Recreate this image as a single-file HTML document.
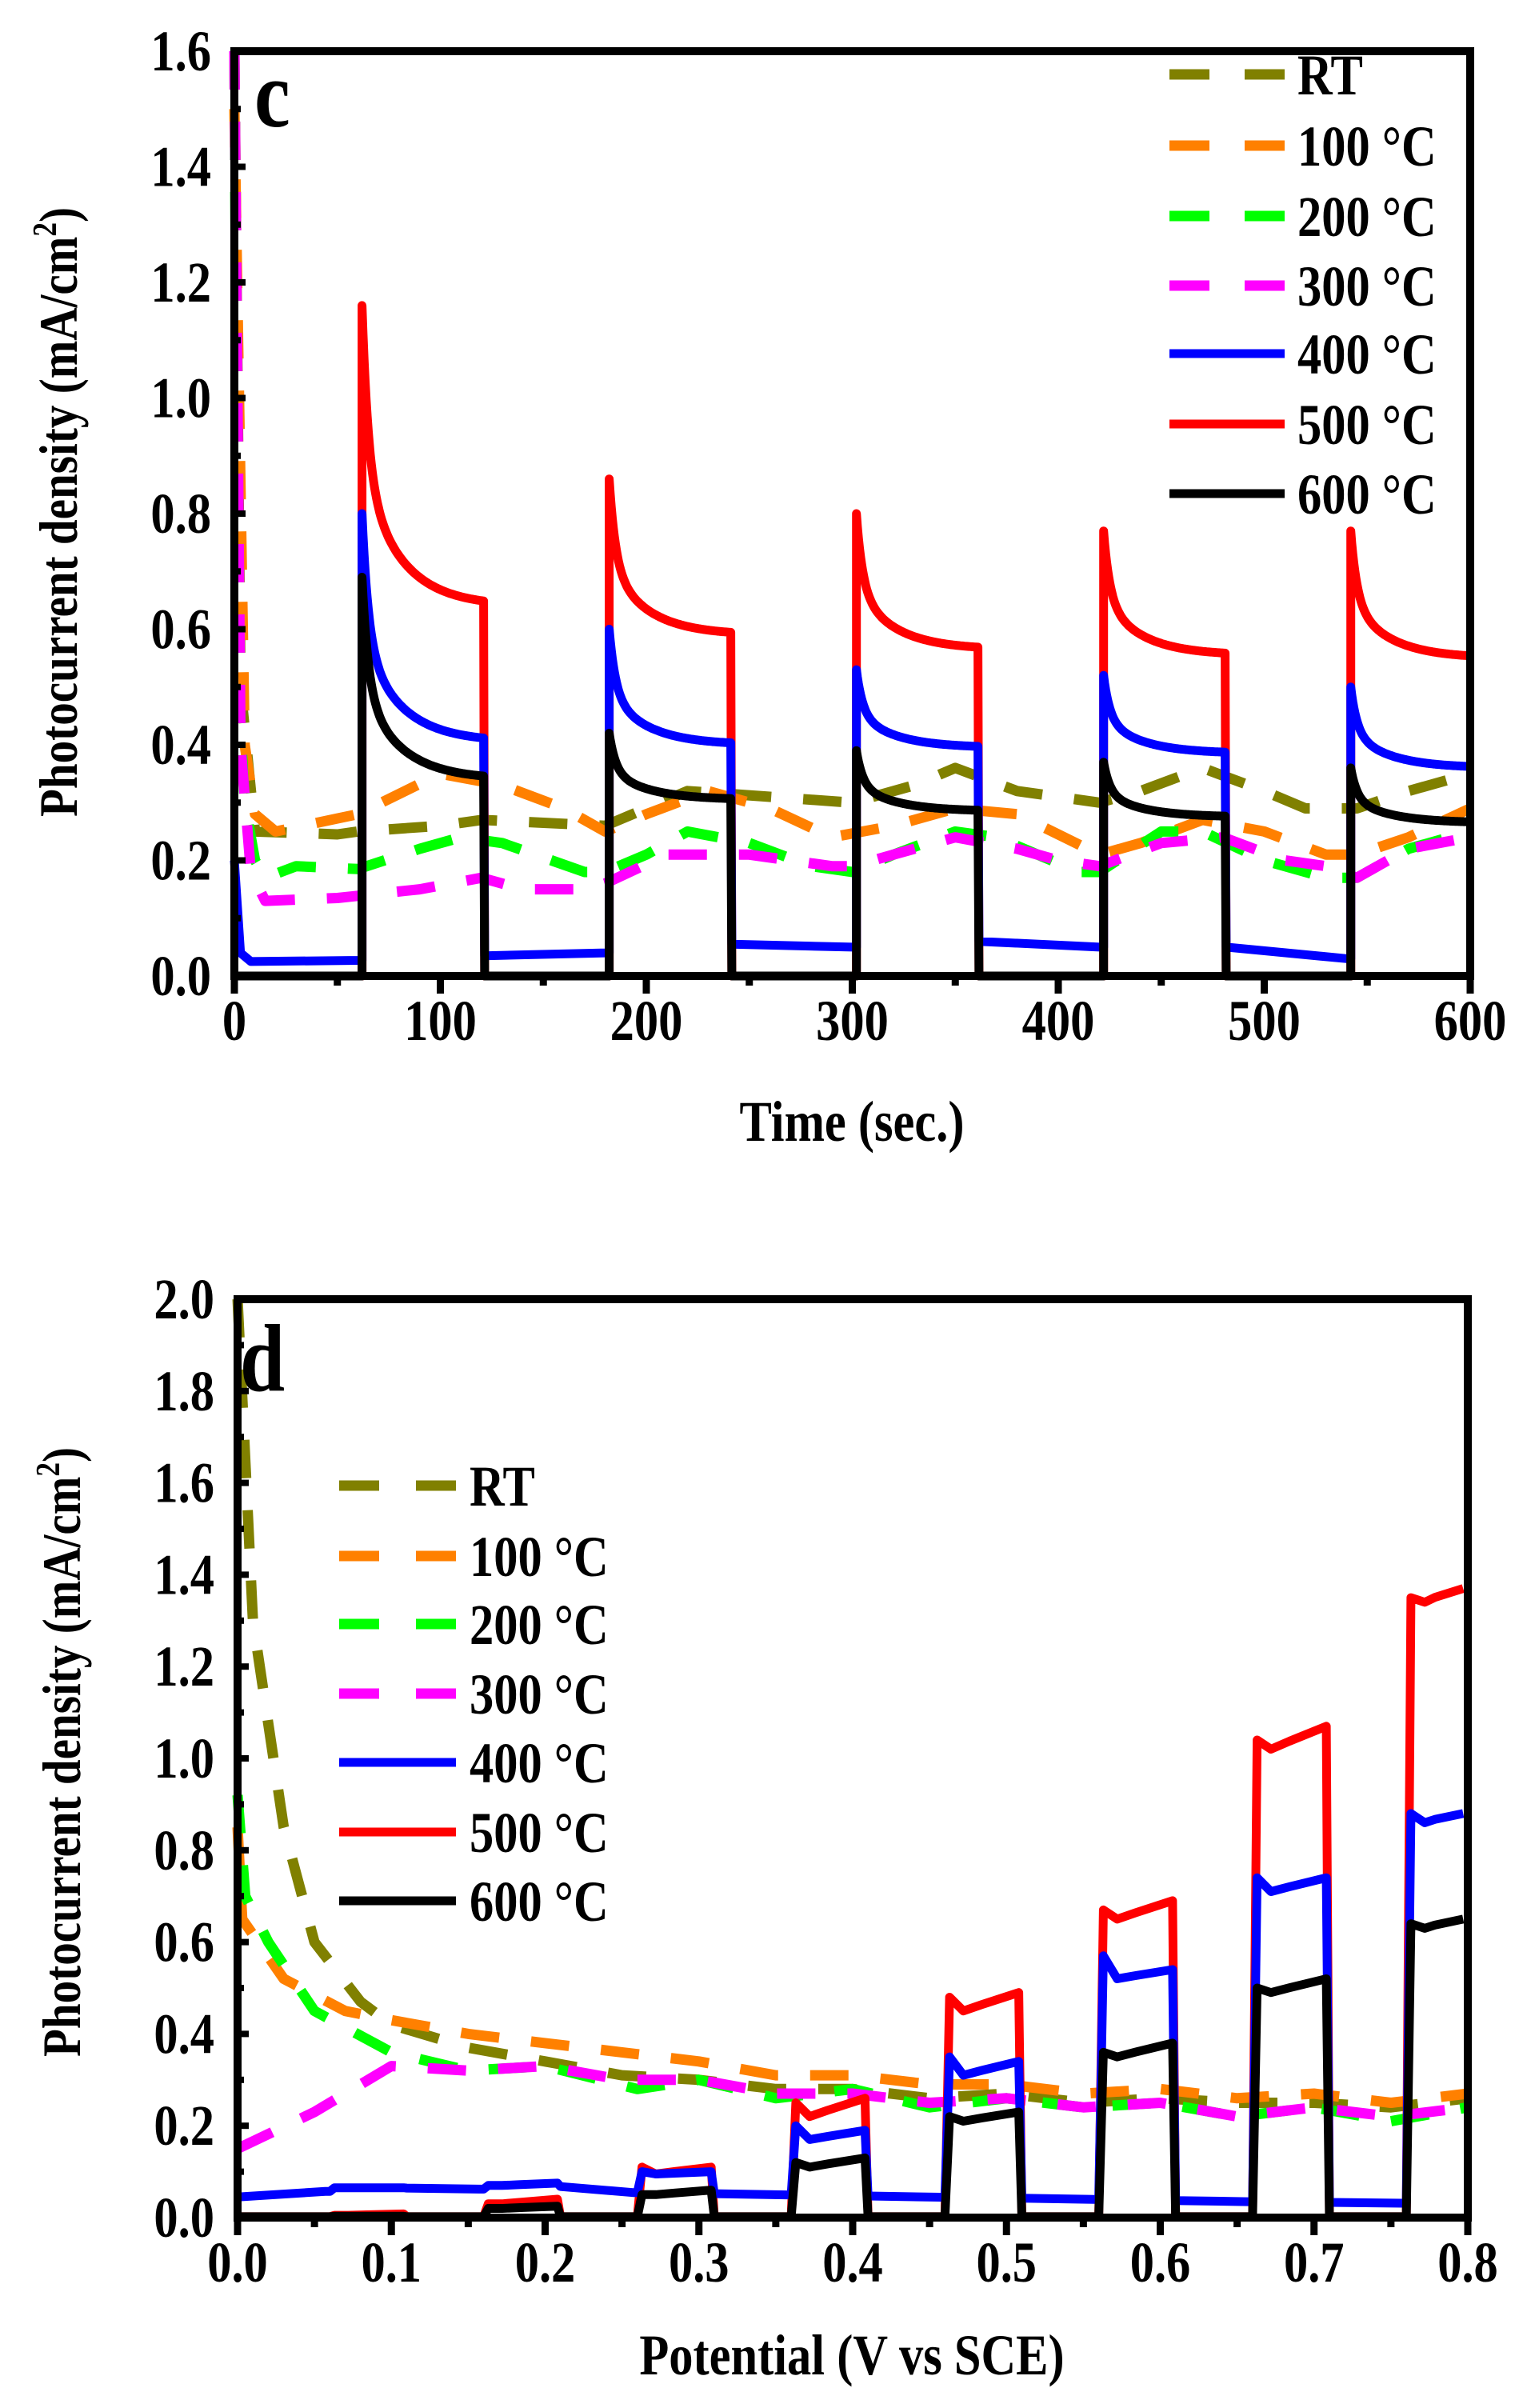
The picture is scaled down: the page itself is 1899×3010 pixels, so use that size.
<!DOCTYPE html>
<html><head><meta charset="utf-8"><style>
html,body{margin:0;padding:0;background:#fff;}
svg{display:block;}
text{font-family:"Liberation Serif",serif;font-weight:bold;fill:#000;}
</style></head><body>
<svg id="s" width="1899" height="3010" xmlns="http://www.w3.org/2000/svg"></svg>
<script>
const S=document.getElementById('s');let h='';
function P(pts,X,Y){return pts.map((p,i)=>(i?'L':'M')+X(p[0]).toFixed(1)+' '+Y(p[1]).toFixed(1)).join(' ');}
function line(pts,X,Y,c,dash,w){h+=`<path d="${P(pts,X,Y)}" fill="none" stroke="${c}" stroke-width="${w||11}" stroke-linejoin="round" ${dash?'stroke-dasharray="48 40"':''}/>`;}
function txt(x,y,t,fs,anc,rot){h+=`<text transform="translate(${x},${y})${rot?' rotate(-90)':''} scale(0.84,1)" font-size="${fs}" text-anchor="${anc||'start'}">${t}</text>`;}
const SUP='Photocurrent density (mA/cm<tspan font-size="42" dy="-26">2</tspan><tspan dy="26">)</tspan>';
// ===== Chart c =====
{const X=t=>293+t*1545/600,Y=v=>1220-v*1156/1.6;
const dc={'#808000':[[0,1.6],[3,0.5],[10,0.25],[50,0.245],[60,0.25],[100,0.26],[120,0.27],[150,0.265],[180,0.26],[220,0.32],[260,0.31],[300,0.30],[330,0.33],[350,0.36],[380,0.32],[420,0.30],[440,0.32],[470,0.36],[500,0.32],[520,0.29],[545,0.29],[570,0.32],[600,0.35]],
'#ff8000':[[0,1.5],[5,0.4],[10,0.28],[20,0.25],[60,0.28],[100,0.35],[130,0.33],[160,0.29],[180,0.25],[200,0.28],[230,0.32],[260,0.29],[290,0.24],[320,0.26],[350,0.29],[380,0.28],[420,0.21],[440,0.23],[470,0.27],[500,0.25],[530,0.21],[545,0.21],[570,0.24],[600,0.29]],
'#00ff00':[[0,1.6],[2,0.5],[5,0.3],[10,0.2],[15,0.17],[30,0.19],[60,0.185],[90,0.22],[110,0.24],[130,0.23],[170,0.18],[180,0.18],[200,0.21],[220,0.25],[250,0.23],[280,0.19],[300,0.18],[320,0.21],[350,0.25],[370,0.24],[410,0.18],[420,0.18],[450,0.25],[470,0.25],[500,0.2],[530,0.17],[545,0.17],[570,0.22],[600,0.25]],
'#ff00ff':[[0,1.6],[3,0.4],[8,0.18],[15,0.13],[50,0.135],[90,0.15],[120,0.17],[140,0.15],[170,0.15],[180,0.16],[210,0.21],[250,0.21],[290,0.19],[300,0.19],[320,0.21],[350,0.24],[380,0.22],[400,0.2],[420,0.19],[450,0.23],[480,0.24],[510,0.2],[530,0.19],[545,0.17],[570,0.22],[600,0.24]]};
for(const c in dc)line(dc[c],X,Y,c,true,13);
function pulses(peaks,bases,dark){const pts=[];const starts=[62,182,302,422,542];
 pts.push([0,dark[0][0]]);
 for(let i=0;i<5;i++){const t0=starts[i],t1=Math.min(t0+59,600);
  const dPrev=dark[i]; pts.push([t0-2,dPrev[1]]);pts.push([t0,dPrev[1]]);
  for(let t=t0;t<=t1;t+=0.5){const dt=t-t0;const v=bases[i]+(peaks[i]-bases[i])*(0.55*Math.exp(-dt/3)+0.45*Math.exp(-dt/18));pts.push([t,v]);}
  if(i<4){const dn=dark[i+1];pts.push([t1+0.5,dn[0]]);}
 }return pts;}
const z=[[0,0],[0,0],[0,0],[0,0],[0,0]];
line(pulses([1.16,0.86,0.80,0.77,0.77],[0.64,0.59,0.565,0.555,0.55],z),X,Y,'#ff0000',false,11);
const bd=[[0.025,0.027],[0.035,0.04],[0.055,0.05],[0.06,0.05],[0.05,0.03]];
let bp=pulses([0.8,0.6,0.53,0.52,0.5],[0.405,0.40,0.395,0.385,0.36],bd);
bp.splice(0,1,[0,0.2],[3,0.04],[8,0.025]);
line(bp,X,Y,'#0000ff',false,11);
line(pulses([0.69,0.42,0.39,0.37,0.36],[0.34,0.305,0.285,0.275,0.265],z),X,Y,'#000',false,11);
h+=`<rect x="293" y="64" width="1545" height="1156" fill="none" stroke="#000" stroke-width="10"/>`;
for(let t=0;t<=600;t+=50){const x=X(t),L=t%100?12:22;h+=`<line x1="${x}" y1="1220" x2="${x}" y2="${1220+L}" stroke="#000" stroke-width="9"/>`;if(t%100==0)txt(x,1300,t,72,'middle');}
for(let i=0;i<=16;i++){const v=i/10,y=Y(v),L=i%2?8:14;h+=`<line x1="293" y1="${y}" x2="${293+L}" y2="${y}" stroke="#000" stroke-width="8"/>`;if(i%2==0)txt(264,y+24,v.toFixed(1),72,'end');}
txt(1065,1426,'Time (sec.)',72,'middle');
txt(96,640,SUP,68,'middle',1);
txt(318,158,'c',120);
const L=[['RT','#808000',1],['100 °C','#ff8000',1],['200 °C','#00ff00',1],['300 °C','#ff00ff',1],['400 °C','#0000ff',0],['500 °C','#ff0000',0],['600 °C','#000',0]];
const ly=[93,182,270,357,442,530,617];
L.forEach((l,i)=>{if(l[2]){h+=`<line x1="1462" y1="${ly[i]}" x2="1512" y2="${ly[i]}" stroke="${l[1]}" stroke-width="13"/><line x1="1556" y1="${ly[i]}" x2="1606" y2="${ly[i]}" stroke="${l[1]}" stroke-width="13"/>`;}else h+=`<line x1="1462" y1="${ly[i]}" x2="1606" y2="${ly[i]}" stroke="${l[1]}" stroke-width="11"/>`;txt(1622,ly[i]+25,l[0],72);});
}
// ===== Chart d =====
{const X=p=>297+p*1538/0.8,Y=v=>2772-v*1148/2;
const dd={'#808000':[[0,2.0],[0.01,1.3],[0.03,0.85],[0.05,0.6],[0.08,0.47],[0.1,0.42],[0.15,0.37],[0.2,0.34],[0.25,0.31],[0.3,0.3],[0.35,0.28],[0.4,0.28],[0.45,0.26],[0.5,0.27],[0.55,0.25],[0.6,0.26],[0.65,0.25],[0.7,0.25],[0.75,0.24],[0.8,0.26]],
'#ff8000':[[0,0.85],[0.003,0.65],[0.03,0.52],[0.07,0.45],[0.1,0.43],[0.15,0.4],[0.2,0.38],[0.25,0.36],[0.3,0.34],[0.35,0.31],[0.4,0.31],[0.45,0.29],[0.5,0.29],[0.55,0.27],[0.6,0.28],[0.65,0.26],[0.7,0.27],[0.75,0.25],[0.8,0.27]],
'#00ff00':[[0,0.92],[0.005,0.7],[0.02,0.6],[0.05,0.45],[0.1,0.36],[0.15,0.32],[0.2,0.33],[0.26,0.28],[0.3,0.3],[0.35,0.26],[0.4,0.28],[0.45,0.24],[0.5,0.26],[0.55,0.24],[0.6,0.25],[0.65,0.22],[0.7,0.24],[0.75,0.21],[0.8,0.24]],
'#ff00ff':[[0,0.15],[0.05,0.23],[0.1,0.33],[0.15,0.32],[0.2,0.33],[0.25,0.3],[0.3,0.3],[0.35,0.27],[0.4,0.27],[0.45,0.25],[0.5,0.26],[0.55,0.24],[0.6,0.25],[0.65,0.22],[0.7,0.24],[0.75,0.22],[0.8,0.24]]};
for(const c in dd)line(dd[c],X,Y,c,true,13);
function dp(levels,dark){const pts=[[0,dark(0)]];for(let i=0;i<8;i++){const a=0.06+i*0.1,b=Math.min(a+0.048,0.797);const l=levels[i];
 pts.push([a-0.003,dark(a)]);pts.push([a,dark(a)]);pts.push([a+0.003,l[0]]);pts.push([a+0.012,l[1]]);pts.push([(a+b)/2,l[1]+(l[2]-l[1])*0.35]);pts.push([b,l[2]]);
 if(i<7){pts.push([b+0.002,dark(b)]);}}
 return pts;}
const zero=p=>0.002;
line(dp([[0.005,0.005,0.008],[0.03,0.03,0.04],[0.11,0.095,0.11],[0.25,0.22,0.26],[0.48,0.45,0.49],[0.67,0.65,0.69],[1.04,1.02,1.07],[1.35,1.34,1.37]],zero),X,Y,'#ff0000',false,11);
const bdark=p=>{const k=[[0,0.045],[0.1,0.065],[0.15,0.06],[0.2,0.07],[0.25,0.055],[0.35,0.05],[0.45,0.045],[0.55,0.04],[0.65,0.035],[0.8,0.03]];for(let i=1;i<k.length;i++)if(p<=k[i][0]){const f=(p-k[i-1][0])/(k[i][0]-k[i-1][0]);return k[i-1][1]+f*(k[i][1]-k[i-1][1]);}return 0.03;};
line(dp([[0.065,0.065,0.065],[0.07,0.07,0.075],[0.1,0.095,0.1],[0.2,0.17,0.19],[0.35,0.31,0.34],[0.57,0.52,0.54],[0.74,0.71,0.74],[0.88,0.86,0.88]],bdark),X,Y,'#0000ff',false,11);
line(dp([[0.003,0.003,0.003],[0.02,0.02,0.025],[0.05,0.05,0.06],[0.12,0.11,0.13],[0.22,0.21,0.23],[0.36,0.35,0.38],[0.5,0.49,0.52],[0.64,0.63,0.65]],zero),X,Y,'#000',false,11);
h+=`<rect x="297" y="1624" width="1538" height="1148" fill="none" stroke="#000" stroke-width="10"/>`;
for(let i=0;i<=16;i++){const p=i/20,x=X(p),L=i%2?12:22;h+=`<line x1="${x}" y1="2772" x2="${x}" y2="${2772+L}" stroke="#000" stroke-width="9"/>`;if(i%2==0)txt(x,2852,(p).toFixed(1),72,'middle');}
for(let i=0;i<=20;i++){const v=i/10,y=Y(v),L=i%2?8:14;h+=`<line x1="297" y1="${y}" x2="${297+L}" y2="${y}" stroke="#000" stroke-width="8"/>`;if(i%2==0)txt(268,y+24,v.toFixed(1),72,'end');}
txt(1065,2968,'Potential (V vs SCE)',72,'middle');
txt(100,2190,SUP,68,'middle',1);
txt(300,1738,'d',120);
const L=[['RT','#808000',1],['100 °C','#ff8000',1],['200 °C','#00ff00',1],['300 °C','#ff00ff',1],['400 °C','#0000ff',0],['500 °C','#ff0000',0],['600 °C','#000',0]];
const ly=[1857,1945,2030,2117,2203,2290,2376];
L.forEach((l,i)=>{if(l[2]){h+=`<line x1="424" y1="${ly[i]}" x2="474" y2="${ly[i]}" stroke="${l[1]}" stroke-width="13"/><line x1="520" y1="${ly[i]}" x2="570" y2="${ly[i]}" stroke="${l[1]}" stroke-width="13"/>`;}else h+=`<line x1="424" y1="${ly[i]}" x2="570" y2="${ly[i]}" stroke="${l[1]}" stroke-width="11"/>`;txt(587,ly[i]+25,l[0],72);});
}
S.innerHTML=h;
</script>
</body></html>
